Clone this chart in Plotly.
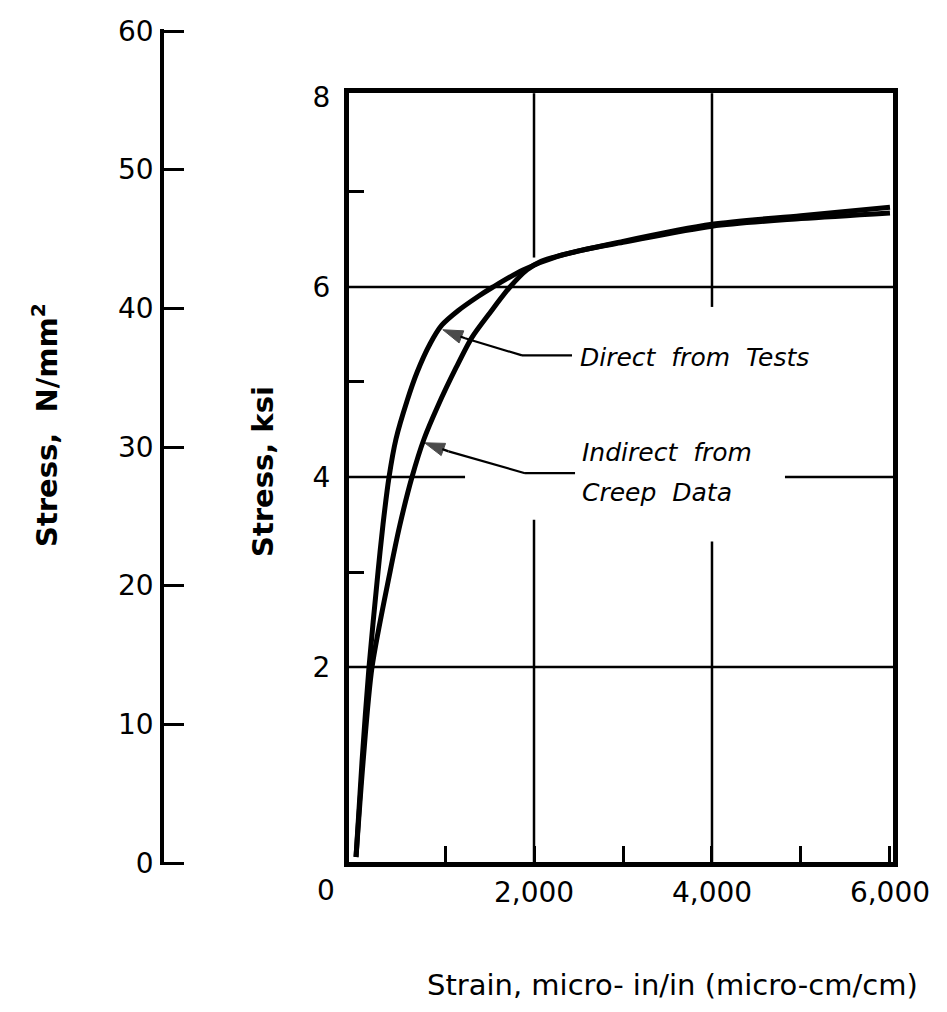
import plotly.graph_objects as go

# ---------------- data ----------------
direct_strain = [0, 67, 146, 247, 303, 371, 449, 573, 685, 831, 966, 1146, 1371, 1539, 1876, 2258, 3000, 4000, 5000, 6000]
direct_ksi    = [0, 1.0, 2.0, 3.0, 3.5, 4.0, 4.4, 4.8, 5.1, 5.4, 5.6, 5.75, 5.9, 6.0, 6.18, 6.32, 6.48, 6.66, 6.75, 6.84]

indirect_strain = [0, 79, 180, 382, 494, 629, 764, 921, 1124, 1303, 1506, 1730, 1921, 2079, 2500, 3000, 4000, 5000, 6000]
indirect_ksi    = [0, 1.0, 2.0, 3.0, 3.5, 4.0, 4.4, 4.75, 5.15, 5.47, 5.73, 6.0, 6.18, 6.27, 6.38, 6.47, 6.64, 6.72, 6.78]

x_tick_vals = [2000, 4000, 6000]
x_tick_text = ["2,000", "4,000", "6,000"]
x_minor_vals = [1000, 3000, 5000]
y_tick_vals = [2, 4, 6, 8]
y_minor_vals = [3, 5, 7]
si_tick_vals = [0, 10, 20, 30, 40, 50, 60]

# grid segments (value, from, to) with gaps as in the reference
grid_h = [(6, -79, 6034), (2, -79, 6034), (4, -79, 1225), (4, 4820, 6034)]
grid_v = [(2000, 6.31, 8.04), (2000, -0.06, 3.55), (4000, 5.79, 8.04), (4000, -0.06, 3.32)]

# leader lines: end, elbow, tail of arrow, arrow tip (on the curve)
direct_leader = [(2427, 5.28), (1865, 5.28), (1225, 5.46), (975, 5.55)]
indirect_leader = [(2461, 4.04), (1899, 4.04), (1040, 4.27), (770, 4.36)]

FONT = "DejaVu Sans"
W, H = 947, 1012
L, R, T, B = 100, 54, 28, 146
PH = H - T - B  # plot-area height in px
PW = W - L - R


def py2paper(py):
    return (H - B - py) / PH


def px2paper(px):
    return (px - L) / PW


fig = go.Figure()

fig.add_trace(go.Scatter(x=direct_strain, y=direct_ksi, mode="lines",
                         line=dict(color="black", width=5, shape="spline", smoothing=0.8),
                         name="Direct from Tests", showlegend=False, hoverinfo="skip"))
fig.add_trace(go.Scatter(x=indirect_strain, y=indirect_ksi, mode="lines",
                         line=dict(color="black", width=5, shape="spline", smoothing=0.8),
                         name="Indirect from Creep Data", showlegend=False, hoverinfo="skip"))

# leader lines with arrowheads
for leader in (direct_leader, indirect_leader):
    fig.add_trace(go.Scatter(
        x=[p[0] for p in leader], y=[p[1] for p in leader], mode="lines+markers",
        line=dict(color="black", width=2.2),
        marker=dict(symbol="arrow", angleref="previous", color="black",
                    size=[0, 0, 0, 21], line=dict(width=1, color="black")),
        showlegend=False, hoverinfo="skip"))

# dummy trace to realise the secondary (N/mm^2) axis
fig.add_trace(go.Scatter(x=[None], y=[None], xaxis="x2", yaxis="y2", showlegend=False,
                         hoverinfo="skip"))

shapes = []
for val, a, b in grid_h:
    shapes.append(dict(type="line", xref="x", yref="y", x0=a, x1=b, y0=val, y1=val,
                       line=dict(color="black", width=2.5), layer="below"))
for val, a, b in grid_v:
    shapes.append(dict(type="line", xref="x", yref="y", x0=val, x1=val, y0=a, y1=b,
                       line=dict(color="black", width=2.5), layer="below"))

ital = dict(family=FONT, size=25, color="black")
annotations = [
    dict(x=2494, y=5.26, xref="x", yref="y", text="<i>Direct  from  Tests</i>", showarrow=False,
         xanchor="left", yanchor="middle", font=ital),
    dict(x=2517, y=4.26, xref="x", yref="y", text="<i>Indirect  from</i>", showarrow=False,
         xanchor="left", yanchor="middle", font=ital),
    dict(x=2517, y=3.84, xref="x", yref="y", text="<i>Creep  Data</i>", showarrow=False,
         xanchor="left", yanchor="middle", font=ital),
    # "0" label of the strain axis, set left of the frame as in the reference
    dict(x=px2paper(326), y=py2paper(891), xref="paper", yref="paper", text="0", showarrow=False,
         xanchor="center", yanchor="middle", font=dict(family=FONT, size=28, color="black")),
    dict(x=px2paper(672), y=py2paper(985), xref="paper", yref="paper",
         text="Strain, micro- in/in (micro-cm/cm)", showarrow=False,
         xanchor="center", yanchor="middle", font=dict(family=FONT, size=29, color="black")),
    dict(x=px2paper(45), y=py2paper(425), xref="paper", yref="paper",
         text="<b>Stress,  N/mm<sup>2</sup></b>", showarrow=False, textangle=-90,
         xanchor="center", yanchor="middle", font=dict(family=FONT, size=29, color="black")),
    dict(x=px2paper(263), y=py2paper(472), xref="paper", yref="paper",
         text="<b>Stress, ksi</b>", showarrow=False, textangle=-90,
         xanchor="center", yanchor="middle", font=dict(family=FONT, size=29, color="black")),
]

tickfont = dict(family=FONT, size=28, color="black")

# left (N/mm^2) scale: 0 at 863 px, 60 at 31 px
si_ppu = (863 - 31) / 60.0
si_range = [-(865 - 863) / si_ppu, 60 + (31 - 29) / si_ppu]

fig.update_layout(
    width=W, height=H,
    margin=dict(l=L, r=R, t=T, b=B, pad=0),
    paper_bgcolor="white", plot_bgcolor="white",
    showlegend=False,
    shapes=shapes, annotations=annotations,
    xaxis=dict(domain=[px2paper(349), 1], range=[-79, 6034], anchor="y",
               showgrid=False, zeroline=False,
               showline=True, linewidth=5, linecolor="black", mirror=True,
               tickmode="array", tickvals=x_tick_vals, ticktext=x_tick_text,
               ticks="inside", ticklen=16, tickwidth=2.5, tickcolor="black",
               tickfont=tickfont, ticklabelstandoff=1,
               minor=dict(tickmode="array", tickvals=x_minor_vals, ticks="inside",
                          ticklen=16, tickwidth=2.5, tickcolor="black", showgrid=False)),
    yaxis=dict(domain=[py2paper(862), py2paper(93)], range=[-0.0526, 8.042], anchor="x",
               showgrid=False, zeroline=False,
               showline=True, linewidth=5, linecolor="black", mirror=True,
               tickmode="array", tickvals=y_tick_vals,
               ticks="", tickfont=tickfont, ticklabelstandoff=8,
               minor=dict(tickmode="array", tickvals=y_minor_vals, ticks="inside",
                          ticklen=15, tickwidth=2.5, tickcolor="black", showgrid=False)),
    xaxis2=dict(domain=[px2paper(164), px2paper(300)], anchor="y2", visible=False,
                range=[0, 1]),
    yaxis2=dict(domain=[py2paper(865), py2paper(29)], range=si_range, anchor="x2",
                showgrid=False, zeroline=False,
                showline=True, linewidth=3.5, linecolor="black",
                tickmode="array", tickvals=si_tick_vals,
                ticks="inside", ticklen=20, tickwidth=2.5, tickcolor="black",
                tickfont=tickfont, ticklabelstandoff=1),
)

fig.write_html("out.html")
